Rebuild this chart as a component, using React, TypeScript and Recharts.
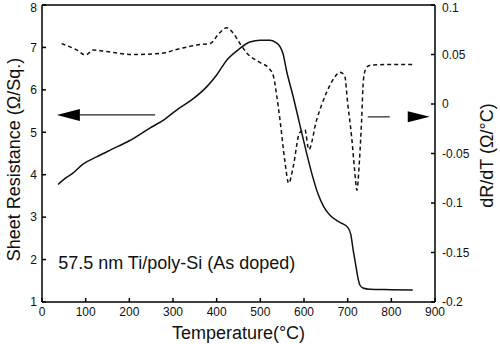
import { ComposedChart, Line, XAxis, YAxis, ReferenceLine, ReferenceDot, Label } from "recharts";

// sheet resistance (left axis)
const resTemp = [37, 55, 70, 94, 125, 156, 200, 247, 280, 309, 345, 377, 400, 423, 450, 476, 500, 522, 535, 545, 552, 560, 575, 590, 605, 620, 632, 645, 659, 675, 689, 700, 707, 713, 718, 723, 728, 735, 750, 800, 849];
const resVal = [3.77, 3.93, 4.03, 4.25, 4.42, 4.58, 4.8, 5.1, 5.3, 5.53, 5.78, 6.07, 6.35, 6.7, 6.95, 7.13, 7.17, 7.17, 7.12, 7.02, 6.85, 6.45, 5.85, 5.2, 4.55, 3.95, 3.55, 3.25, 3.05, 2.92, 2.84, 2.76, 2.6, 2.2, 1.9, 1.6, 1.4, 1.33, 1.3, 1.29, 1.28];

// dR/dT (right axis)
const dTemp = [45, 80, 100, 117, 148, 209, 270, 316, 362, 385, 405, 423, 437, 455, 469, 499, 520, 530, 537, 545, 556, 565, 575, 590, 602, 611, 629, 652, 670, 682, 693, 700, 709, 716, 721, 727, 732, 736, 742, 750, 800, 849];
const dVal = [0.061, 0.0545, 0.0495, 0.0545, 0.053, 0.05, 0.051, 0.056, 0.06, 0.061, 0.071, 0.077, 0.072, 0.06, 0.0515, 0.042, 0.036, 0.028, 0.01, -0.016, -0.057, -0.08, -0.064, -0.029, -0.026, -0.046, -0.016, 0.012, 0.027, 0.032, 0.029, 0.001, -0.033, -0.067, -0.087, -0.057, -0.016, 0.024, 0.036, 0.039, 0.04, 0.04];

const xTicks = [0, 100, 200, 300, 400, 500, 600, 700, 800, 900];
const leftTicks = [1, 2, 3, 4, 5, 6, 7, 8];
const rightTicks = [-0.2, -0.15, -0.1, -0.05, 0, 0.05, 0.1];
const rightTickLabels = ["-0.2", "-0.15", "-0.1", "-0.05", "0", "0.05", "0.1"];

const resData = resTemp.map((t, i) => ({ t, r: resVal[i] }));
const dData = dTemp.map((t, i) => ({ t, d: dVal[i] }));

const font = "'Liberation Sans', Arial, sans-serif";
const tickStyle = { fontSize: 12, fill: "#111", fontFamily: font };

const leftArrow = (p: any) => {
  const { x1, y1, x2 } = p;
  const a = Math.min(x1, x2), b = Math.max(x1, x2);
  return (
    <g>
      <polygon points={`${a},${y1} ${a + 23},${y1 - 6} ${a + 23},${y1 + 6}`} fill="#000" />
      <line x1={a + 23} y1={y1} x2={b} y2={y1} stroke="#222" strokeWidth={1.2} />
    </g>
  );
};

const rightArrow = (p: any) => {
  const { x1, y1, x2 } = p;
  const a = Math.min(x1, x2), b = Math.max(x1, x2);
  return (
    <g>
      <line x1={a} y1={y1} x2={a + 22} y2={y1} stroke="#222" strokeWidth={1.2} />
      <polygon points={`${b},${y1} ${b - 22},${y1 - 5.5} ${b - 22},${y1 + 5.5}`} fill="#000" />
    </g>
  );
};

const sampleText = (p: any) => (
  <text x={p.cx} y={p.cy} fontSize={18} fontFamily={font} fill="#111">
    57.5 nm Ti/poly-Si (As doped)
  </text>
);

export default function App() {
  return (
    <div style={{ position: "absolute", left: 0, top: 0, background: "#fff" }}>
      <ComposedChart width={500} height={344} margin={{ top: 5, right: 0, bottom: 0, left: 0 }}>
        <XAxis
          dataKey="t"
          type="number"
          domain={[0, 900]}
          ticks={xTicks}
          allowDataOverflow
          height={42}
          tick={tickStyle}
          tickSize={-4}
          tickMargin={9}
          stroke="#000"
          strokeWidth={1.5}
          tickLine={{ stroke: "#000" }}
        >
          <Label
            content={({ viewBox }: any) => (
              <text x={viewBox.x + viewBox.width / 2} y={viewBox.y + 37} textAnchor="middle" fontSize={18} fontFamily={font} fill="#111">
                Temperature(°C)
              </text>
            )}
          />
        </XAxis>
        <YAxis
          yAxisId="left"
          orientation="left"
          domain={[1, 8]}
          ticks={leftTicks}
          width={42}
          tick={tickStyle}
          tickSize={-4}
          tickMargin={9}
          stroke="#000"
          strokeWidth={1.5}
          tickLine={{ stroke: "#000" }}
        >
          <Label
            content={({ viewBox }: any) => {
              const cx = 20;
              const cy = viewBox.y + viewBox.height / 2 + 6;
              return (
                <text x={cx} y={cy} transform={`rotate(-90, ${cx}, ${cy})`} textAnchor="middle" fontSize={18} fontFamily={font} fill="#111">
                  Sheet Resistance (Ω/Sq.)
                </text>
              );
            }}
          />
        </YAxis>
        <YAxis
          yAxisId="right"
          orientation="right"
          domain={[-0.2, 0.1]}
          ticks={rightTicks}
          tickFormatter={(v: number) => rightTickLabels[rightTicks.indexOf(v)] ?? String(v)}
          width={65}
          tick={{ ...tickStyle, textAnchor: "start" }}
          tickSize={-4}
          tickMargin={11}
          stroke="#000"
          strokeWidth={1.5}
          tickLine={{ stroke: "#000" }}
        >
          <Label
            content={({ viewBox }: any) => {
              const cx = viewBox.x + 58;
              const cy = viewBox.y + viewBox.height / 2 + 2;
              return (
                <text x={cx} y={cy} transform={`rotate(-90, ${cx}, ${cy})`} textAnchor="middle" fontSize={18} fontFamily={font} fill="#111">
                  dR/dT (Ω/°C)
                </text>
              );
            }}
          />
        </YAxis>
        <ReferenceLine yAxisId="left" y={8} stroke="#000" strokeWidth={1.5} />
        <Line
          yAxisId="left"
          data={resData}
          dataKey="r"
          type="monotone"
          stroke="#111"
          strokeWidth={1.5}
          dot={false}
          isAnimationActive={false}
        />
        <Line
          yAxisId="right"
          data={dData}
          dataKey="d"
          type="monotone"
          stroke="#111"
          strokeWidth={1.5}
          strokeDasharray="4 3"
          dot={false}
          isAnimationActive={false}
        />
        <ReferenceLine
          yAxisId="left"
          segment={[{ x: 34, y: 5.41 }, { x: 259, y: 5.41 }]}
          shape={leftArrow}
        />
        <ReferenceLine
          yAxisId="right"
          segment={[{ x: 746, y: -0.013 }, { x: 888, y: -0.013 }]}
          shape={rightArrow}
        />
        <ReferenceDot yAxisId="left" x={37} y={1.78} r={0} shape={sampleText} />
      </ComposedChart>
    </div>
  );
}
